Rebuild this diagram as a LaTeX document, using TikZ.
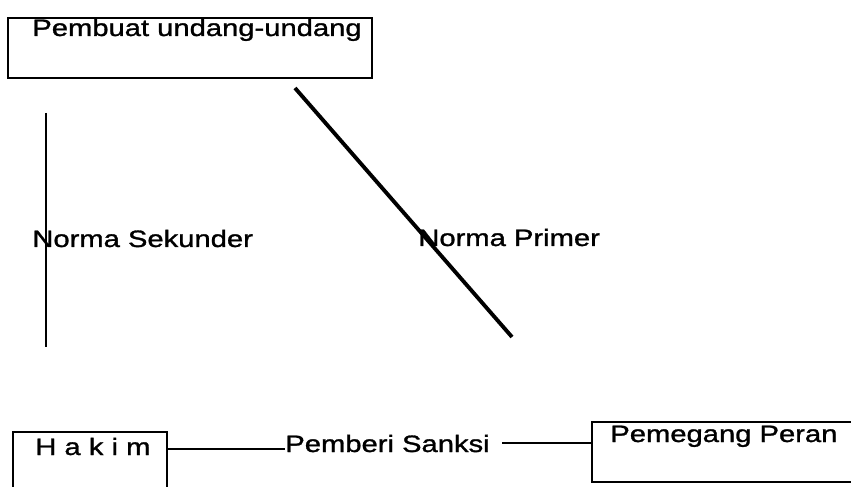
\documentclass[tikz,border=0pt]{standalone}
\usepackage{fontspec}
\setmainfont{Liberation Sans}[FakeStretch=1.23, FakeBold=1.2]
\begin{document}
\begin{tikzpicture}[box/.style={draw, line width=1.4pt, inner sep=0pt},
  lbl/.style={inner sep=0pt, anchor=base west, font=\fontsize{13.5}{16}\selectfont}]
\path[use as bounding box] (0,0) rectangle (17.02,9.72);
\clip (0,0) rectangle (17.02,9.72);
% top box
\node[box, minimum width=7.28cm, minimum height=1.2cm] (pembuat) at (3.8,8.76) {};
\node[lbl] (pembuattext) at (0.64,9.0) {Pembuat undang-undang};
% norma
\draw[line width=1.4pt] (0.92,7.46) -- (0.92,2.78);
\draw[line width=2.2pt] (5.9,7.96) -- (10.24,2.98);
\node[lbl] (sekunder) at (0.64,4.78) {Norma Sekunder};
\node[lbl] (primer) at (8.36,4.8) {Norma Primer};
% bottom row
\node[box, minimum width=3.08cm, minimum height=1.3cm] (hakim) at (1.8,0.43) {};
\node[lbl] (hakimtext) at (0.7,0.62) {H a k i m};
\node[lbl] (sanksi) at (5.7,0.68) {Pemberi Sanksi};
\node[box, minimum width=5.46cm, minimum height=1.2cm] (pemegang) at (14.57,0.68) {};
\node[lbl] (pemegangtext) at (12.2,0.88) {Pemegang Peran};
\coordinate (lineL) at (5.7,0.74);
\coordinate (lineR) at (10.04,0.86);
\draw[line width=1.2pt] (hakim.east |- lineL) -- (lineL);
\draw[line width=1.2pt] (lineR) -- (pemegang.west |- lineR);
\end{tikzpicture}
\end{document}
